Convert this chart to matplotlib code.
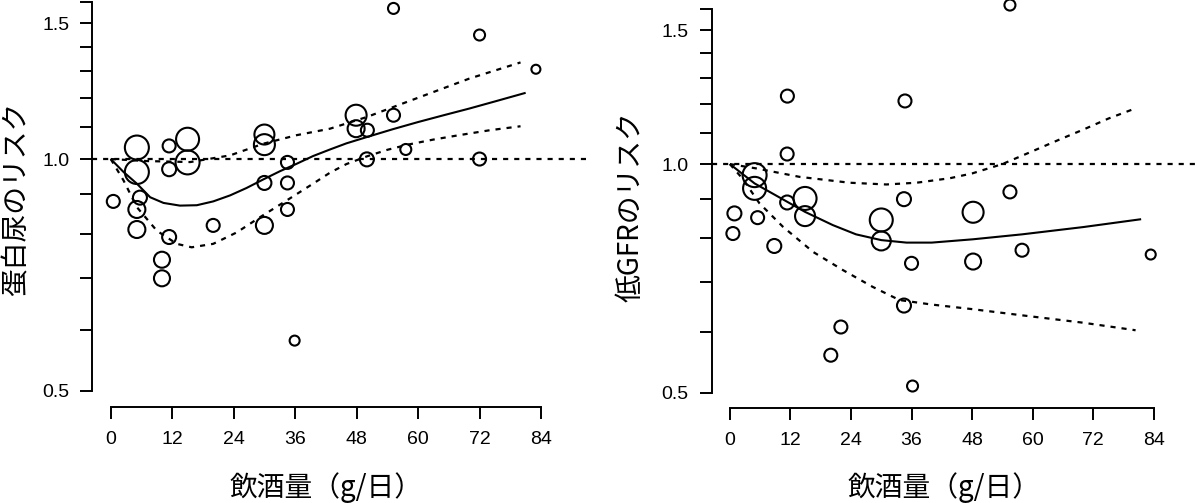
import numpy as np
import matplotlib
matplotlib.use("Agg")
from matplotlib import pyplot as plt
from matplotlib.ticker import FixedLocator, FixedFormatter, NullLocator

plt.rcParams['font.family'] = ['Liberation Sans', 'Noto Sans CJK JP']

# 蛋白尿 (left panel)
prot_x = [0.5, 5.1, 5.1, 5.7, 5.1, 5.1, 11.4, 11.4, 11.4, 10.0, 10.0, 15.0, 15.0, 20.0,
          30.0, 30.0, 30.0, 30.0, 34.5, 34.5, 34.5, 35.9, 47.9, 47.9, 50.1, 50.0,
          55.2, 55.2, 57.6, 72.0, 72.0, 83.0]
prot_y = [0.881, 1.035, 0.962, 0.891, 0.860, 0.810, 1.040, 0.970, 0.792, 0.740, 0.700,
          1.061, 0.990, 0.820, 1.076, 1.044, 0.931, 0.820, 0.990, 0.931, 0.860, 0.581,
          1.140, 1.095, 1.090, 0.999, 1.569, 1.140, 1.029, 1.449, 1.000, 1.308]
prot_w = [1.3, 2.4, 2.4, 1.4, 1.7, 1.7, 1.3, 1.4, 1.4, 1.6, 1.6, 2.3, 2.4, 1.3,
          2.0, 2.1, 1.4, 1.7, 1.3, 1.3, 1.3, 1.0, 2.1, 1.7, 1.3, 1.4,
          1.1, 1.3, 1.1, 1.1, 1.3, 0.9]

prot_fit_x = [0, 2.5, 5.1, 7.7, 10.3, 13.5, 16.8, 20, 23.3, 26.5, 29.8, 33, 36.3, 39.5,
              42.8, 46, 50, 55, 60, 65, 70, 75, 81]
prot_fit = [1.0, 0.962, 0.929, 0.892, 0.877, 0.870, 0.871, 0.881, 0.897, 0.917, 0.941,
            0.964, 0.986, 1.009, 1.029, 1.048, 1.068, 1.093, 1.117, 1.140, 1.163, 1.188,
            1.219]
prot_up_x = [0, 7, 15.5, 23.3, 29.8, 36.3, 42.8, 50, 56, 63, 70, 80]
prot_up = [1.0, 0.994, 0.991, 1.011, 1.047, 1.074, 1.095, 1.134, 1.174, 1.222, 1.272, 1.335]
prot_lo_x = [0, 2.5, 5.1, 9.0, 12.9, 15.8, 20, 24.6, 29.1, 34.4, 39.5, 42.8, 46, 50,
             54, 58, 63, 68, 74, 80]
prot_lo = [1.0, 0.938, 0.866, 0.807, 0.776, 0.768, 0.776, 0.803, 0.840, 0.884, 0.929,
           0.960, 0.985, 1.008, 1.028, 1.044, 1.060, 1.074, 1.090, 1.103]

# 低GFR (right panel)
gfr_x = [11.35, 4.9, 4.9, 0.9, 0.6, 5.5, 8.8, 11.35, 14.9, 14.9, 30.0, 30.0, 34.5, 36.0,
         34.5, 22.0, 11.4, 34.7, 55.5, 55.5, 48.2, 48.2, 57.9, 83.4, 20.0, 36.2]
gfr_y = [1.031, 0.967, 0.929, 0.861, 0.810, 0.850, 0.780, 0.890, 0.901, 0.854, 0.844,
         0.792, 0.899, 0.740, 0.651, 0.610, 1.229, 1.211, 1.620, 0.919, 0.864, 0.744,
         0.770, 0.760, 0.560, 0.510]
gfr_w = [1.3, 2.4, 2.3, 1.4, 1.3, 1.3, 1.4, 1.4, 2.3, 2.0, 2.3, 1.9, 1.4, 1.3,
         1.4, 1.3, 1.3, 1.3, 1.1, 1.3, 2.1, 1.6, 1.3, 1.0, 1.3, 1.1]

gfr_fit_x = [0, 4.9, 11.35, 14.9, 20.4, 25, 30, 35, 40, 48.2, 57.9, 70, 81.5]
gfr_fit = [1.0, 0.943, 0.892, 0.865, 0.831, 0.808, 0.794, 0.788, 0.788, 0.796, 0.808,
           0.826, 0.846]
gfr_up_x = [0, 5.2, 13.8, 23.7, 31, 37, 43.6, 48, 54, 60, 65, 70, 75, 80.5]
gfr_up = [1.0, 0.987, 0.962, 0.945, 0.940, 0.945, 0.958, 0.972, 1.0, 1.040, 1.075, 1.110,
          1.148, 1.185]
gfr_lo_x = [0, 2.5, 5.85, 10.5, 16.5, 22.4, 28.3, 33.6, 40, 48, 57.9, 70, 80.4]
gfr_lo = [1.0, 0.957, 0.888, 0.827, 0.766, 0.725, 0.689, 0.662, 0.653, 0.644, 0.632,
          0.618, 0.604]

x_ticks = [0, 12, 24, 36, 48, 60, 72, 84]
y_ticks = [0.5, 0.6, 0.7, 0.8, 0.9, 1.0, 1.1, 1.2, 1.3, 1.4, 1.5, 1.6]
y_labels = ['0.5', '', '', '', '', '1.0', '', '', '', '', '1.5', '']

xlab = '飲酒量（g/日）'
dots = (0, (2.3, 2.7))

fig = plt.figure(figsize=(12, 5.03), dpi=100)
ax1 = fig.add_axes([92.3 / 1200, 96.5 / 503, 497.9 / 1200, 420.2 / 503])
ax2 = fig.add_axes([711.7 / 1200, 95 / 503, 490.5 / 1200, 414.2 / 503])

panels = [
    (ax1, prot_x, prot_y, prot_w, prot_fit_x, prot_fit, prot_up_x, prot_up, prot_lo_x, prot_lo,
     '蛋白尿のリスク', (0.4694, -0.194), (-0.153, 0.495)),
    (ax2, gfr_x, gfr_y, gfr_w, gfr_fit_x, gfr_fit, gfr_up_x, gfr_up, gfr_lo_x, gfr_lo,
     '低GFRのリスク', (0.4726, -0.193), (-0.1655, 0.485)),
]

for ax, px, py, pw, fx, fy, ux, uy, lx, ly, ylab, xlc, ylc in panels:
    ax.set_yscale('log')
    ax.set_xlim(-3.6, 93.6)
    ax.set_ylim(0.4771, 1.6763)
    ax.axhline(1.0, color='black', lw=1.6, ls=dots)
    ax.plot(fx, fy, color='black', lw=1.5, solid_capstyle='butt')
    ax.plot(ux, uy, color='black', lw=1.6, ls=dots)
    ax.plot(lx, ly, color='black', lw=1.6, ls=dots)
    ms = 7.2 * np.array(pw)
    ax.scatter(px, py, s=ms ** 2, facecolors='none', edgecolors='black',
               linewidths=1.5, zorder=3, clip_on=False)

    for side in ['top', 'right']:
        ax.spines[side].set_visible(False)
    ax.spines['left'].set_bounds(0.5, 1.6)
    ax.spines['bottom'].set_bounds(0, 84)
    ax.spines['left'].set_linewidth(1.4)
    ax.spines['bottom'].set_linewidth(1.4)

    ax.yaxis.set_major_locator(FixedLocator(y_ticks))
    ax.yaxis.set_major_formatter(FixedFormatter(y_labels))
    ax.yaxis.set_minor_locator(NullLocator())
    ax.set_xticks(x_ticks)
    ax.set_xticklabels([str(t) for t in x_ticks])
    ax.tick_params(axis='both', direction='out', length=8.5, width=1.4,
                   labelsize=14, colors='black')
    ax.tick_params(axis='y', pad=8)
    ax.tick_params(axis='x', pad=9)

    ax.set_xlabel(xlab, fontsize=20, family=['Noto Sans CJK JP'], va='center')
    ax.xaxis.set_label_coords(*xlc)
    ax.set_ylabel(ylab, fontsize=20, family=['Noto Sans CJK JP'], va='center',
                  ha='center', rotation_mode='anchor')
    ax.yaxis.set_label_coords(*ylc)

fig.savefig('out.png', dpi=100)
